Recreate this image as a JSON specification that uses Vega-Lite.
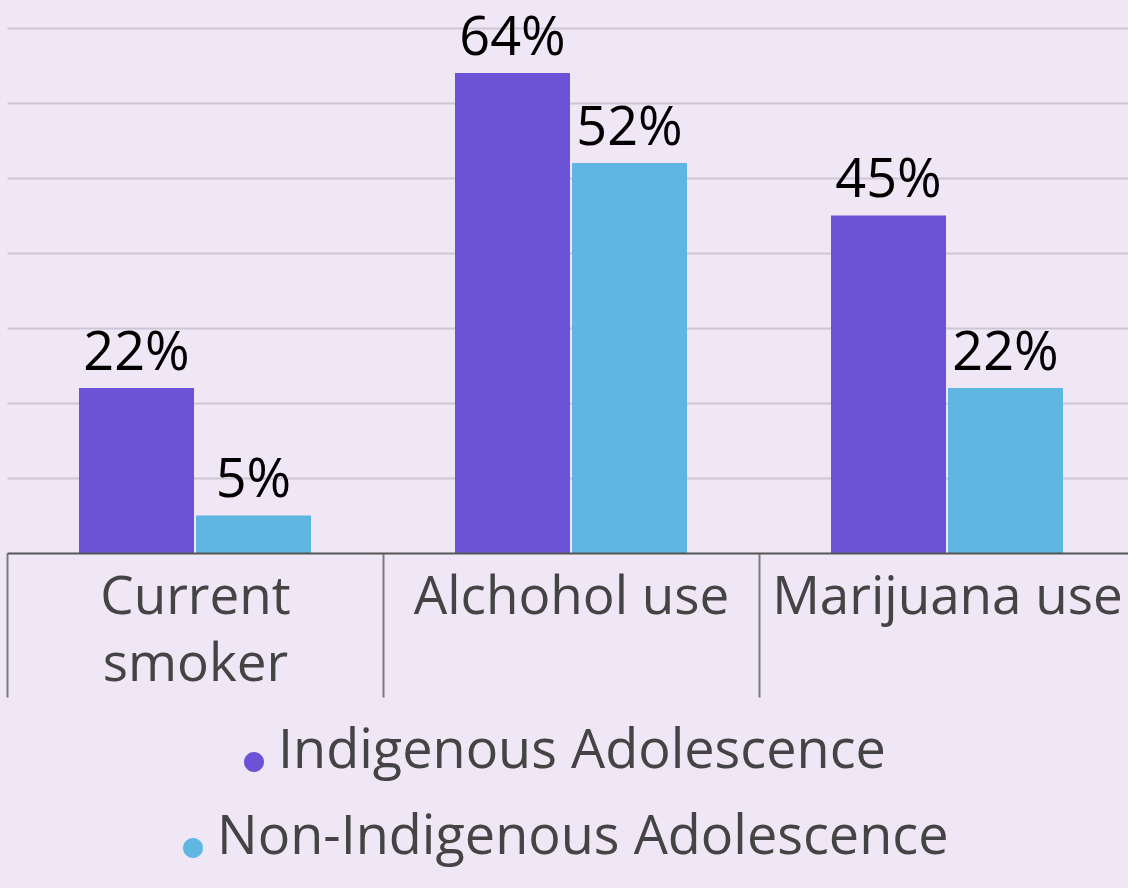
{
  "$schema": "https://vega.github.io/schema/vega-lite/v6.json",
  "width": 1128,
  "height": 553,
  "padding": {"left": 6, "top": 0, "right": 0, "bottom": 30},
  "background": "#EFE7F5",
  "config": {
    "view": {"stroke": null},
    "font": "Open Sans",
    "legend": {
      "title": null,
      "orient": "none",
      "labelFontSize": 54,
      "labelColor": "#444444",
      "symbolType": "M -1 1 A 1 1 0 1 1 1 1 A 1 1 0 1 1 -1 1 Z",
      "symbolSize": 400,
      "symbolStrokeWidth": 0,
      "labelOffset": -3,
      "labelLimit": 0
    }
  },
  "data": {
    "values": [
      {"measure": "Current smoker", "group": "Indigenous Adolescence", "value": 0.22},
      {"measure": "Current smoker", "group": "Non-Indigenous Adolescence", "value": 0.05},
      {"measure": "Alchohol use", "group": "Indigenous Adolescence", "value": 0.64},
      {"measure": "Alchohol use", "group": "Non-Indigenous Adolescence", "value": 0.52},
      {"measure": "Marijuana use", "group": "Indigenous Adolescence", "value": 0.45},
      {"measure": "Marijuana use", "group": "Non-Indigenous Adolescence", "value": 0.22}
    ]
  },
  "encoding": {
    "x": {
      "field": "measure",
      "type": "nominal",
      "sort": ["Current smoker", "Alchohol use", "Marijuana use"],
      "scale": {"paddingInner": 0, "paddingOuter": 0},
      "axis": {
        "title": null,
        "labelFontSize": 53,
        "labelColor": "#444444",
        "labelAngle": 0,
        "labelPadding": -84,
        "labelBaseline": "alphabetic",
        "labelLineHeight": 67,
        "labelLimit": 0,
        "labelExpr": "datum.label == 'Current smoker' ? ['Current', 'smoker'] : datum.label",
        "tickBand": "extent",
        "tickSize": 144,
        "tickColor": "#7a7a7a",
        "tickWidth": 2,
        "domainColor": "#555555",
        "domainWidth": 2,
        "zindex": 1
      }
    },
    "xOffset": {
      "field": "group",
      "type": "nominal",
      "sort": ["Indigenous Adolescence", "Non-Indigenous Adolescence"],
      "scale": {"domain": ["Indigenous Adolescence", "Non-Indigenous Adolescence"], "paddingInner": 0.017, "paddingOuter": 0.6154}
    },
    "y": {
      "field": "value",
      "type": "quantitative",
      "scale": {"domain": [0, 0.7373], "nice": false},
      "axis": {
        "title": null,
        "labels": false,
        "ticks": false,
        "domain": false,
        "values": [0.1, 0.2, 0.3, 0.4, 0.5, 0.6, 0.7],
        "gridColor": "#CDC6D4",
        "gridWidth": 2
      }
    }
  },
  "layer": [
    {
      "transform": [{"filter": "datum.group == 'Indigenous Adolescence'"}],
      "mark": {"type": "bar"},
      "encoding": {
        "color": {
          "field": "group",
          "type": "nominal",
          "scale": {"domain": ["Indigenous Adolescence"], "range": ["#6B53D8"]},
          "legend": {"legendX": 220, "legendY": 725}
        }
      }
    },
    {
      "transform": [{"filter": "datum.group == 'Non-Indigenous Adolescence'"}],
      "mark": {"type": "bar"},
      "encoding": {
        "color": {
          "field": "group",
          "type": "nominal",
          "scale": {"domain": ["Non-Indigenous Adolescence"], "range": ["#5FB6E3"]},
          "legend": {"legendX": 159, "legendY": 811}
        }
      }
    },
    {
      "mark": {"type": "text", "dy": -18, "baseline": "alphabetic", "fontSize": 54, "color": "#000000"},
      "encoding": {"text": {"field": "value", "type": "quantitative", "format": ".0%"}}
    }
  ],
  "resolve": {"scale": {"color": "independent"}}
}
